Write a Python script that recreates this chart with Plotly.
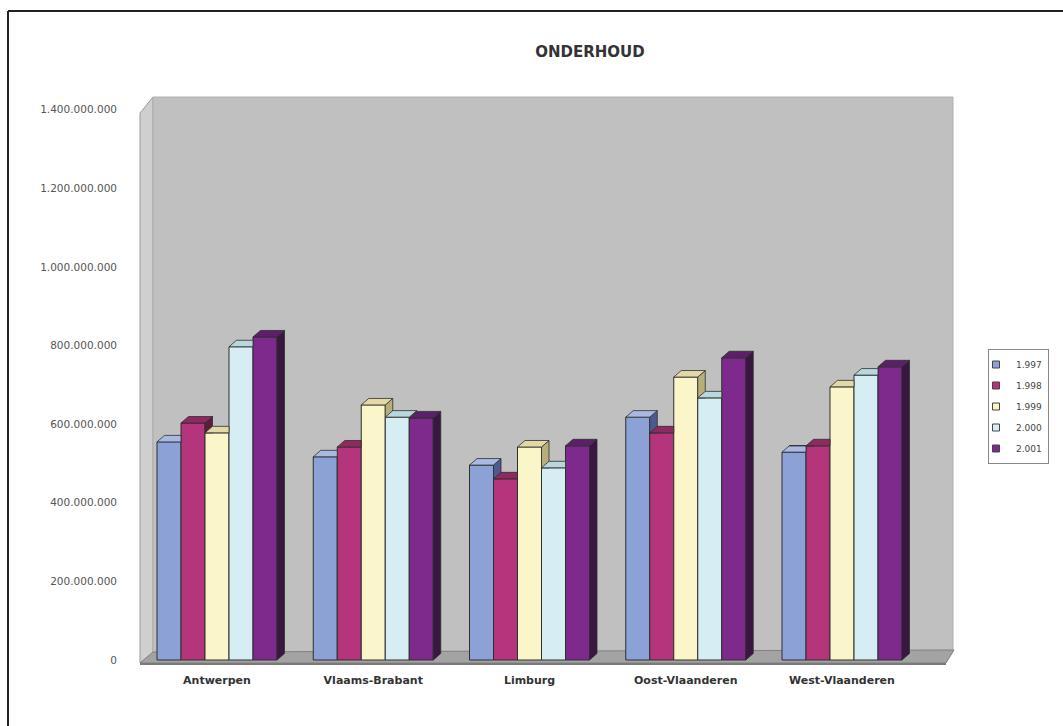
import plotly.graph_objects as go

# ---------------- data ----------------
regions = ["Antwerpen", "Vlaams-Brabant", "Limburg", "Oost-Vlaanderen", "West-Vlaanderen"]
years = ["1.997", "1.998", "1.999", "2.000", "2.001"]
v1997 = [555e6, 517e6, 496e6, 618e6, 529e6]
v1998 = [603e6, 542e6, 461e6, 578e6, 545e6]
v1999 = [578e6, 649e6, 542e6, 720e6, 695e6]
v2000 = [797e6, 618e6, 489e6, 667e6, 725e6]
v2001 = [822e6, 616e6, 545e6, 769e6, 746e6]
series = [v1997, v1998, v1999, v2000, v2001]
y_ticks = [0, 200e6, 400e6, 600e6, 800e6, 1000e6, 1200e6, 1400e6]

# ---------------- styling ----------------
front_col = ["#8CA1D5", "#B4357B", "#FBF6C9", "#D6EEF3", "#7E2A8D"]
top_col = ["#A9B9E2", "#8E2A61", "#E3D9A6", "#B9D8DE", "#5E1F6A"]
side_col = ["#4E5A8E", "#5E1B40", "#B8AE7C", "#93B2B8", "#3A1740"]
edge = "#2e2e2e"

W, H = 1063, 726
L, R, T, B = 140, 953, 97, 662          # plot area in pixels
Y0_PX = 660                             # pixel of value 0
PX_PER_UNIT_Y = 78.6 / 200e6
X_CENTERS_PX = 217
PX_PER_UNIT_X = 156.25

y_lo = -(B - Y0_PX) / PX_PER_UNIT_Y
y_hi = (Y0_PX - T) / PX_PER_UNIT_Y
x_lo = (L - X_CENTERS_PX) / PX_PER_UNIT_X
x_hi = (R - X_CENTERS_PX) / PX_PER_UNIT_X

bw = 24 / PX_PER_UNIT_X                 # bar width (data units)
dx = 7.5 / PX_PER_UNIT_X                # depth offset x
dy = 6.5 / PX_PER_UNIT_Y                # depth offset y


def px(x):
    return (x - L) / (R - L)


def py(y):
    return (B - y) / (B - T)


def clip(poly, inside, inter):
    out = []
    n = len(poly)
    for k in range(n):
        p, q = poly[k], poly[(k + 1) % n]
        ip, iq = inside(p), inside(q)
        if ip:
            out.append(p)
        if ip != iq:
            out.append(inter(p, q))
    return out


def clip_y_ge(poly, yc):
    def inter(p, q):
        t = (yc - p[1]) / (q[1] - p[1])
        return (p[0] + t * (q[0] - p[0]), yc)
    return clip(poly, lambda p: p[1] >= yc, inter)


def clip_x_le(poly, xc):
    def inter(p, q):
        t = (xc - p[0]) / (q[0] - p[0])
        return (xc, p[1] + t * (q[1] - p[1]))
    return clip(poly, lambda p: p[0] <= xc, inter)


fig = go.Figure()

# front faces as real bars
for j, vals in enumerate(series):
    xs = [i + (j - 2) * bw for i in range(len(regions))]
    fig.add_trace(go.Bar(
        x=xs, y=vals, width=bw, name=years[j], showlegend=False,
        marker=dict(color=front_col[j], line=dict(color=edge, width=1)),
        hovertemplate="%{y:,.0f}<extra>" + years[j] + "</extra>",
    ))

# 3-D depth faces (top and side), derived from the same values
for j, vals in enumerate(series):
    sx, sy, tx, ty = [], [], [], []
    for i, v in enumerate(vals):
        x0 = i + (j - 2) * bw - bw / 2
        x1 = x0 + bw
        side = [(x1, 0), (x1, v), (x1 + dx, v + dy), (x1 + dx, dy)]
        top = [(x0, v), (x0 + dx, v + dy), (x1 + dx, v + dy), (x1, v)]
        sides, tops = [side], [top]
        if j < len(series) - 1:
            vn = series[j + 1][i]
            sides = [clip_y_ge(side, vn)]
            if vn <= v:
                tops = [top]
            elif vn >= v + dy:
                tops = [clip_x_le(top, x1)]
            else:
                tops = [clip_x_le(top, x1), clip_y_ge(top, vn)]
        for poly in sides:
            if len(poly) >= 3:
                sx += [p[0] for p in poly] + [poly[0][0], None]
                sy += [p[1] for p in poly] + [poly[0][1], None]
        for poly in tops:
            if len(poly) >= 3:
                tx += [p[0] for p in poly] + [poly[0][0], None]
                ty += [p[1] for p in poly] + [poly[0][1], None]
    fig.add_trace(go.Scatter(x=sx, y=sy, mode="lines", fill="toself",
                             fillcolor=side_col[j], line=dict(color=edge, width=0.8),
                             hoverinfo="skip", showlegend=False))
    fig.add_trace(go.Scatter(x=tx, y=ty, mode="lines", fill="toself",
                             fillcolor=top_col[j], line=dict(color=edge, width=0.8),
                             hoverinfo="skip", showlegend=False))

# legend entries
for j in range(len(series)):
    fig.add_trace(go.Scatter(
        x=[None], y=[None], mode="markers", name=years[j], legendgroup=years[j],
        marker=dict(symbol="square", size=7, color=front_col[j],
                    line=dict(color="#444", width=1)),
    ))

shapes = [
    # side wall
    dict(type="path", xref="paper", yref="paper", layer="below",
         path=f"M {px(140)},{py(113)} L {px(153)},{py(97)} L {px(153)},{py(655)} L {px(140)},{py(663)} Z",
         fillcolor="#CFCFCF", line=dict(color="#9a9a9a", width=1)),
    # back wall
    dict(type="path", xref="paper", yref="paper", layer="below",
         path=f"M {px(153)},{py(97)} L {px(953)},{py(97)} L {px(953)},{py(651)} L {px(153)},{py(653)} Z",
         fillcolor="#C0C0C0", line=dict(color="#b0b0b0", width=1)),
    # floor
    dict(type="path", xref="paper", yref="paper", layer="below",
         path=f"M {px(140)},{py(663)} L {px(946)},{py(663)} L {px(954)},{py(650)} L {px(153)},{py(652)} Z",
         fillcolor="#A3A3A3", line=dict(color="#808080", width=1)),
    # front edge of floor
    dict(type="line", xref="paper", yref="paper", layer="below",
         x0=px(140), y0=py(664), x1=px(946), y1=py(664),
         line=dict(color="#7a7a7a", width=2)),
    # outer frame (top & left visible)
    dict(type="line", xref="paper", yref="paper",
         x0=px(8), y0=py(11), x1=px(1063), y1=py(11),
         line=dict(color="#222", width=2)),
    dict(type="line", xref="paper", yref="paper",
         x0=px(8), y0=py(11), x1=px(8), y1=py(726),
         line=dict(color="#222", width=2)),
]

fig.update_layout(
    width=W, height=H,
    margin=dict(l=L, r=W - R, t=T, b=H - B),
    paper_bgcolor="white", plot_bgcolor="rgba(0,0,0,0)",
    separators=",.",
    barmode="overlay",
    title=dict(text="<b>ONDERHOUD</b>", x=590 / W, y=1 - 52 / H,
               xref="container", yref="container",
               xanchor="center", yanchor="middle",
               font=dict(family="DejaVu Sans", size=15, color="#333")),
    xaxis=dict(range=[x_lo, x_hi], tickmode="array",
               tickvals=list(range(len(regions))),
               ticktext=[f"<b>{r}</b>" for r in regions],
               showgrid=False, zeroline=False, showline=False, ticks="",
               ticklabelstandoff=10,
               tickfont=dict(family="DejaVu Sans", size=11, color="#333")),
    yaxis=dict(range=[y_lo, y_hi], tickmode="array", tickvals=y_ticks,
               tickformat=",d", showgrid=False, zeroline=False, showline=False,
               ticks="", ticklabelstandoff=22,
               tickfont=dict(family="DejaVu Sans", size=10.5, color="#555")),
    legend=dict(xref="container", yref="container",
                x=988 / W, y=1 - 349 / H, xanchor="left", yanchor="top",
                bgcolor="white", bordercolor="#888", borderwidth=1,
                font=dict(family="DejaVu Sans", size=9, color="#444"),
                tracegroupgap=2, itemwidth=30, indentation=-13),
    shapes=shapes,
    showlegend=True,
)

fig.write_html("out.html")
